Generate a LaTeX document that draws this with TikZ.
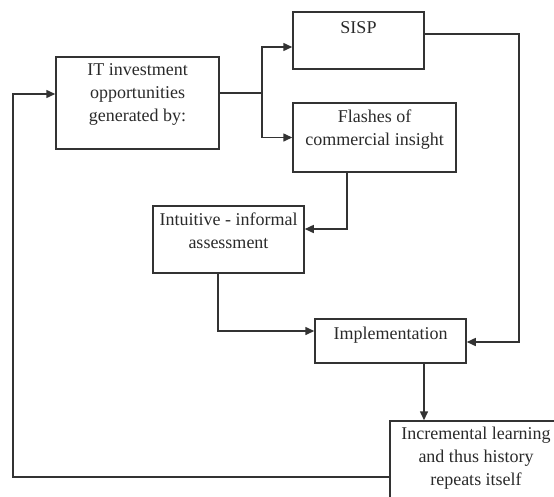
\documentclass[tikz,border=0pt]{standalone}
\usepackage{fontspec}
\setmainfont{Liberation Serif}
\usetikzlibrary{arrows.meta}
\definecolor{linec}{HTML}{333333}
\definecolor{textc}{HTML}{2A2A2A}
\begin{document}
\begin{tikzpicture}[x=1pt,y=-1pt,
  box/.style={draw=linec, line width=1.5pt, inner sep=0pt},
  txt/.style={align=center, font=\fontsize{18}{23}\selectfont, inner sep=0pt, text=textc},
  ln/.style={draw=linec, line width=1.5pt},
  conn/.style={ln, -{Triangle[length=9pt,width=8pt]}}]
\useasboundingbox (0,0) rectangle (554,496);
\clip (0,0) rectangle (554,496);
% boxes
\node[box, minimum width=163pt, minimum height=92pt] (it) at (137.5,103) {};
\node[box, minimum width=131pt, minimum height=57pt] (sisp) at (358.5,40.5) {};
\node[box, minimum width=163pt, minimum height=69pt] (fl) at (374.5,137.5) {};
\node[box, minimum width=151pt, minimum height=67pt] (intu) at (228.5,239.5) {};
\node[box, minimum width=151pt, minimum height=44pt] (impl) at (390.5,341) {};
\node[box, minimum width=172pt, minimum height=99pt] (inc) at (476,470.5) {};
% texts
\node[txt] (itT) at (137.5,94) {IT investment\\opportunities\\generated by:};
\node[txt] (sispT) at (358.5,28) {SISP};
\node[txt] (flT) at (374.5,130) {Flashes of\\commercial insight};
\node[txt] (intuT) at (228.5,231) {Intuitive - informal\\assessment};
\node[txt] (implT) at (390.5,335) {Implementation};
\node[txt] (incT) at (476,458) {Incremental learning\\and thus history\\repeats itself};
% connectors
\coordinate (f) at (262,93);
\draw[ln] (it.east |- f) -- (f);
\draw[conn] (f) |- ([yshift=-6.5pt]sisp.west);
\draw[conn] (f) |- (fl.west);
\draw[conn] ([xshift=-27.5pt]fl.south) |- ([yshift=10.5pt]intu.east);
\draw[conn] ([xshift=-10.5pt]intu.south) |- ([yshift=10pt]impl.west);
\coordinate (r) at (519,342);
\draw[conn] ([yshift=6.5pt]sisp.east) -| (r) -- (r -| impl.east);
\draw[conn] ([xshift=33.5pt]impl.south) -- ([xshift=33.5pt]impl.south |- inc.north);
\coordinate (l) at (13,477);
\draw[conn] (inc.west |- l) -- (l) |- ([yshift=9pt]it.west);
\end{tikzpicture}
\end{document}
